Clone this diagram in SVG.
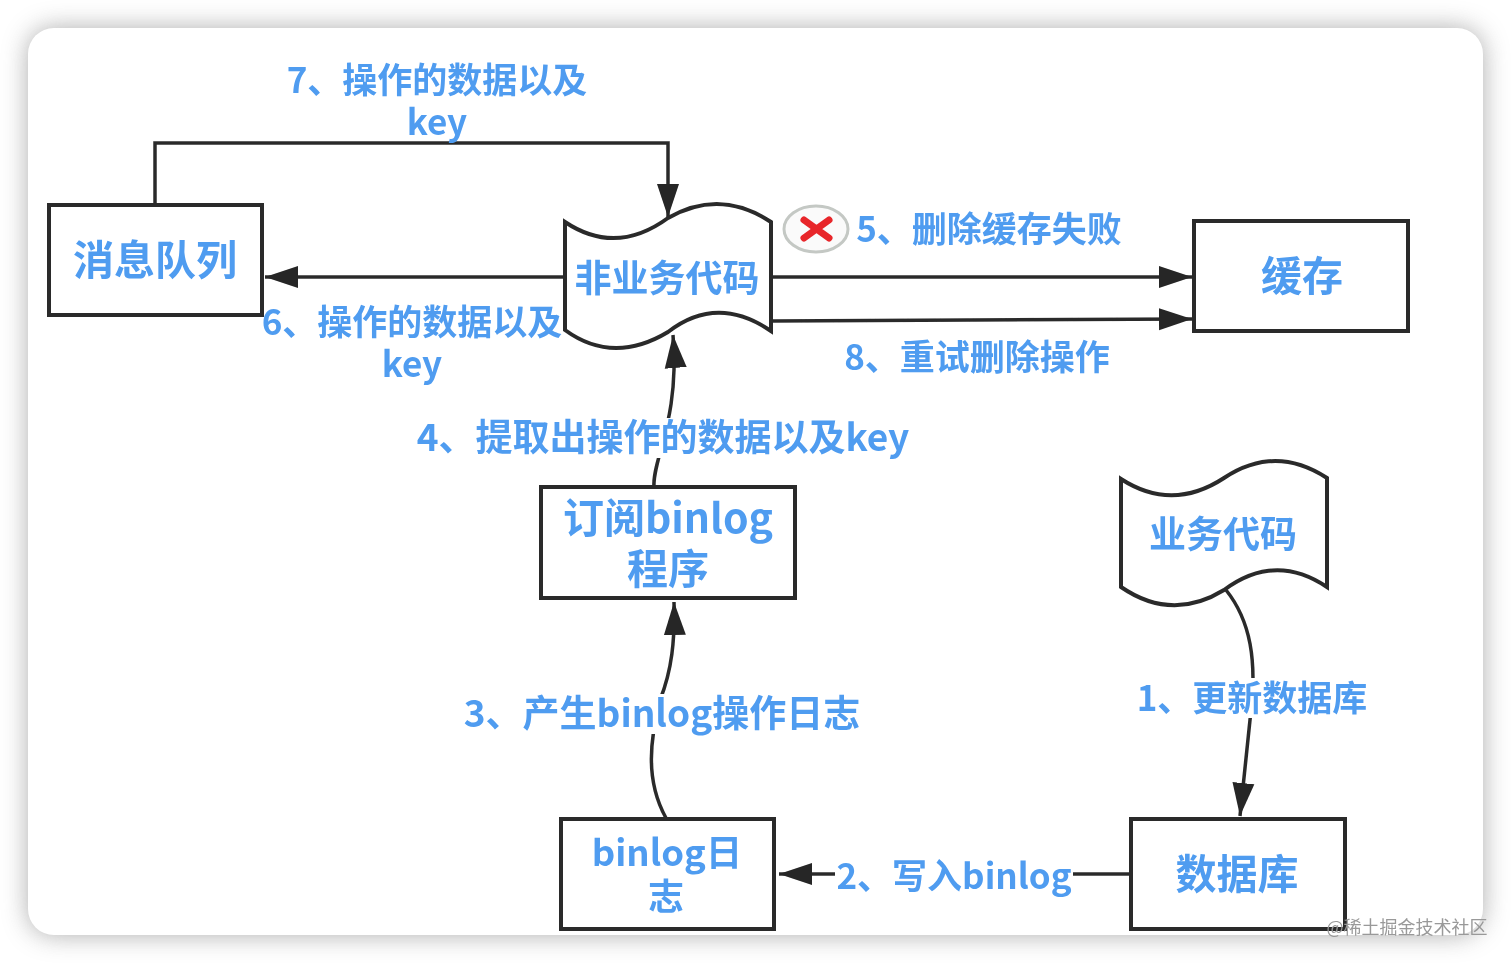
<svg xmlns="http://www.w3.org/2000/svg" width="1512" height="964" viewBox="0 0 1512 964">
<style>
text{font-family:"Noto Sans CJK SC","Noto Sans",sans-serif;font-weight:700;fill:#4f9cf0;text-anchor:middle}
.n{fill:#fff;stroke:#2b2b2b;stroke-width:4}
.c{fill:none;stroke:#2b2b2b;stroke-width:3.5}
.l{font-size:35px}
.w{font-size:37px}
.m{font-size:41px}
.k{fill:#fff}
</style>
<defs>
<filter id="s" filterUnits="userSpaceOnUse" x="0" y="0" width="1512" height="964"><feGaussianBlur stdDeviation="13"/></filter>
<filter id="b" filterUnits="userSpaceOnUse" x="0" y="0" width="1512" height="964"><feGaussianBlur stdDeviation="0.7"/></filter>
<marker id="a" markerUnits="userSpaceOnUse" markerWidth="36" markerHeight="26" refX="33" refY="13" orient="auto"><path d="M0 2L33 13L0 24Z" fill="#262626"/></marker>
</defs>
<rect width="1512" height="964" fill="#fff"/>
<rect id="shadow" x="28" y="28" width="1455" height="907" rx="26" fill="#8a8a8a" opacity=".7" filter="url(#s)"/>
<rect id="card" x="28" y="28" width="1455" height="907" rx="26" fill="#fff"/>
<g filter="url(#b)">
<g id="connectors">
<path class="c" d="M155 204V143H668V217" marker-end="url(#a)"/>
<path class="c" d="M565 277H265" marker-end="url(#a)"/>
<path class="c" d="M771 277H1192" marker-end="url(#a)"/>
<path class="c" d="M771 321L1192 319" marker-end="url(#a)"/>
<path class="c" d="M654 487C652 460 680 420 673 335" marker-end="url(#a)"/>
<path class="c" d="M666 818C645 780 650 740 660 700C672 670 675 640 674 602" marker-end="url(#a)"/>
<path class="c" d="M1226 590C1250 620 1258 660 1250 720L1240 816" marker-end="url(#a)"/>
<path class="c" d="M1131 874H779" marker-end="url(#a)"/>
</g>
<g id="label-7"><text class="l" x="437" y="93">7、操作的数据以及</text><text class="l" x="437" y="135">key</text></g>
<g id="label-6"><text class="l" x="412" y="335">6、操作的数据以及</text><text class="l" x="412" y="377">key</text></g>
<g id="label-4"><rect class="k" x="415" y="418" width="495" height="40"/><text class="w" x="663" y="451">4、提取出操作的数据以及key</text></g>
<g id="label-3"><rect class="k" x="463" y="694" width="398" height="40"/><text class="w" x="662" y="727">3、产生binlog操作日志</text></g>
<g id="label-1"><rect class="k" x="1135" y="678" width="234" height="40"/><text class="l" x="1252" y="711">1、更新数据库</text></g>
<g id="label-2"><rect class="k" x="835" y="855" width="238" height="40"/><text class="l" x="954" y="889">2、写入binlog</text></g>
<g id="label-5"><text class="l" x="989" y="242">5、删除缓存失败</text></g>
<g id="label-8"><text class="l" x="977" y="370">8、重试删除操作</text></g>
<g id="mq"><rect class="n" x="49" y="205" width="213" height="110"/><text class="m" x="155" y="275">消息队列</text></g>
<g id="cache"><rect class="n" x="1194" y="221" width="214" height="110"/><text class="m" x="1302" y="291">缓存</text></g>
<g id="biz-other"><path class="n" d="M565 222Q616 256 668 218Q720 188 771 222V331Q717 294 668 332Q613 365 565 330Z"/><text x="667" y="292" style="font-size:37px">非业务代码</text></g>
<g id="sub"><rect class="n" x="541" y="487" width="254" height="111"/><text class="m" x="668" y="533">订阅binlog</text><text class="m" x="668" y="584">程序</text></g>
<g id="biz"><path class="n" d="M1121 479Q1172 512 1224 478Q1275 444 1327 478V587Q1275 552 1224 590Q1172 622 1121 587Z"/><text x="1223" y="548" style="font-size:37px">业务代码</text></g>
<g id="binlog"><rect class="n" x="561" y="819" width="213" height="110"/><text x="667" y="866" style="font-size:36.5px">binlog日</text><text x="666" y="910" style="font-size:36px">志</text></g>
<g id="db"><rect class="n" x="1131" y="819" width="214" height="110"/><text class="m" x="1237" y="889">数据库</text></g>
<g id="x-icon"><ellipse cx="816" cy="229" rx="32" ry="23" fill="#fafafa" stroke="#c4c8c4" stroke-width="3"/><path d="M804 220L829 238M829 220L804 238" stroke="#e8252b" stroke-width="7" stroke-linecap="round"/></g>
<text id="watermark" x="1407" y="934" style="font-size:18px;font-weight:400;fill:#999">@稀土掘金技术社区</text>
</g>
</svg>
